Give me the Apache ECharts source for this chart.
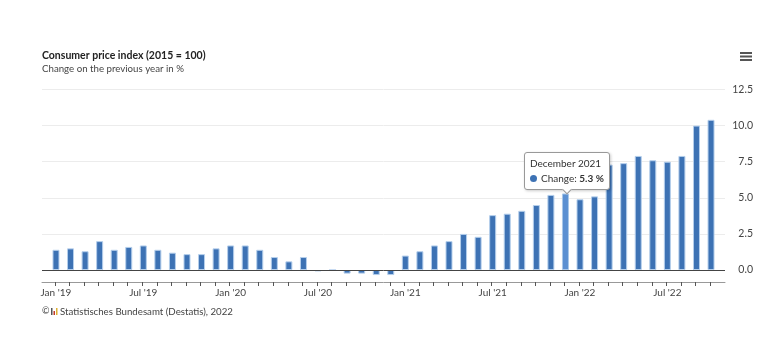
<!DOCTYPE html>
<html>
<head>
<meta charset="utf-8">
<style>
  html, body { margin: 0; padding: 0; background: #fff; }
  #chart { width: 777px; height: 351px; }
</style>
<script src="https://cdn.jsdelivr.net/npm/echarts@6/dist/echarts.min.js"></script>
</head>
<body>
<div id="chart"></div>
<script>
const monthNames = ['January', 'February', 'March', 'April', 'May', 'June', 'July', 'August', 'September', 'October', 'November', 'December'];
const change = [
  1.4, 1.5, 1.3, 2.0, 1.4, 1.6, 1.7, 1.4, 1.2, 1.1, 1.1, 1.5,
  1.7, 1.7, 1.4, 0.9, 0.6, 0.9, -0.1, 0.0, -0.25, -0.25, -0.35, -0.35,
  1.0, 1.3, 1.7, 2.0, 2.5, 2.3, 3.8, 3.9, 4.1, 4.5, 5.2, 5.3,
  4.9, 5.1, 7.3, 7.4, 7.9, 7.6, 7.5, 7.9, 10.0, 10.4
];
const monthTicks = change.map((v, i) => i);
const labelTicks = [0, 6, 12, 18, 24, 30, 36, 42];
const yTicks = [2.5, 5, 7.5, 10, 12.5];
const yLabels = [0, 2.5, 5, 7.5, 10, 12.5];
const activeIndex = 35;

const fontFamily = 'Lato, sans-serif';
const chart = echarts.init(document.getElementById('chart'));

chart.setOption({
  animation: false,
  textStyle: { fontFamily },
  title: {
    left: 42,
    top: 50,
    padding: 0,
    itemGap: 3,
    text: 'Consumer price index (2015 = 100)',
    textStyle: { fontSize: 10.5, fontWeight: 'bold', color: '#222', fontFamily },
    subtext: 'Change on the previous year in %',
    subtextStyle: { fontSize: 9.7, color: '#444', fontFamily }
  },
  grid: { left: 42, right: 52, top: 89.5, bottom: 69 },
  tooltip: {
    trigger: 'item',
    position: 'top',
    backgroundColor: '#fff',
    borderColor: '#999',
    borderWidth: 1,
    padding: [3, 5],
    textStyle: { fontSize: 10, color: '#333', fontFamily },
    extraCssText: 'border-radius:3px;box-shadow:1px 1px 3px rgba(0,0,0,.2);line-height:15px;margin-top:7px;margin-left:2px;',
    formatter(p) {
      const d = new Date(2019, p.dataIndex, 1);
      return monthNames[d.getMonth()] + ' ' + d.getFullYear() +
        '<br><span style="display:inline-block;width:7px;height:7px;border-radius:50%;background:#3d72b4;margin-right:4px"></span>' +
        'Change: <b>' + p.value[1].toFixed(1) + ' %</b>';
    }
  },
  xAxis: {
    type: 'value',
    min: -0.89,
    max: 46.03,
    axisLine: { onZero: false, lineStyle: { color: '#999', width: 1 } },
    axisTick: { show: true, length: 4, customValues: monthTicks, lineStyle: { color: '#555' } },
    splitLine: { show: false },
    axisLabel: {
      customValues: labelTicks,
      fontSize: 10,
      color: '#444',
      margin: 6,
      padding: [0, 0, 0, 2],
      formatter(i) {
        const d = new Date(2019, i, 1);
        return monthNames[d.getMonth()].slice(0, 3) + " '" + String(d.getFullYear()).slice(2);
      }
    }
  },
  yAxis: {
    type: 'value',
    position: 'right',
    min: -0.83,
    max: 12.5,
    axisLine: { show: false },
    axisTick: { show: false },
    splitLine: { show: false },
    axisLabel: {
      customValues: yLabels,
      align: 'right',
      margin: 28,
      fontSize: 10.5,
      color: '#444',
      padding: [2, 0, 0, 0],
      formatter: (v) => v.toFixed(1)
    }
  },
  series: [{
    // holds the grid lines only, so they stay behind the columns
    type: 'line',
    data: [],
    silent: true,
    tooltip: { show: false },
    markLine: {
      z: 1,
      silent: true,
      symbol: 'none',
      label: { show: false },
      lineStyle: { color: '#ececec', width: 1, type: 'solid' },
      data: yTicks.map((v) => ({ yAxis: v }))
    }
  }, {
    type: 'bar',
    barWidth: 7,
    z: 2,
    data: change.map((v, i) => ({
      value: [i + 0.07, v],
      itemStyle: i === activeIndex ? { color: '#5b90d2', borderColor: '#a9c8ea' } : undefined
    })),
    itemStyle: { color: '#3d72b4', borderColor: '#b5cfec', borderWidth: 1 },
    emphasis: { disabled: true },
    markLine: {
      silent: true,
      symbol: 'none',
      label: { show: false },
      lineStyle: { color: '#444', width: 1, type: 'solid' },
      data: [{ yAxis: 0 }]
    }
  }],
  graphic: [
    // export menu icon
    { type: 'rect', shape: { x: 740, y: 52, width: 12, height: 2 }, style: { fill: '#555' } },
    { type: 'rect', shape: { x: 740, y: 55.5, width: 12, height: 2 }, style: { fill: '#555' } },
    { type: 'rect', shape: { x: 740, y: 59, width: 12, height: 2 }, style: { fill: '#555' } },
    // credits
    { type: 'text', left: 42, top: 307, style: { text: '©', fontSize: 9, fill: '#444', fontFamily } },
    { type: 'rect', shape: { x: 51, y: 308, width: 1.5, height: 7 }, style: { fill: '#555' } },
    { type: 'rect', shape: { x: 53.5, y: 311, width: 1.5, height: 4 }, style: { fill: '#c0392b' } },
    { type: 'rect', shape: { x: 56, y: 308, width: 1.5, height: 7 }, style: { fill: '#e0b030' } },
    { type: 'text', left: 60, top: 306.5, style: { text: 'Statistisches Bundesamt (Destatis), 2022', fontSize: 9.7, fill: '#444', fontFamily } }
  ]
});

chart.dispatchAction({ type: 'showTip', seriesIndex: 1, dataIndex: activeIndex });
</script>
</body>
</html>
